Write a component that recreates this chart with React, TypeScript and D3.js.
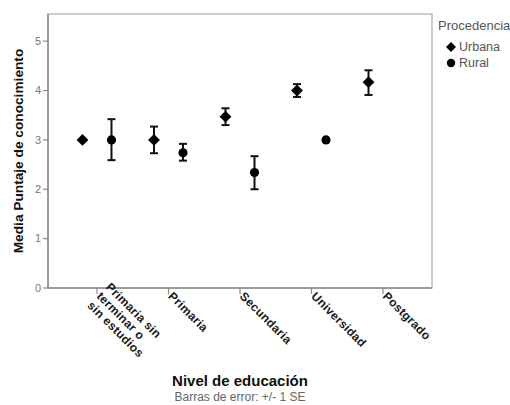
import React from "react";
import * as d3 from "d3";

const categories = ["Primaria sin terminar o sin estudios", "Primaria", "Secundaria", "Universidad", "Postgrado"];
const categoryLines = [["Primaria sin", "terminar o", "sin estudios"], ["Primaria"], ["Secundaria"], ["Universidad"], ["Postgrado"]];
const seriesNames = ["Urbana", "Rural"];

const urbanaMean = [3.0, 3.0, 3.47, 4.0, 4.17];
const urbanaLow = [3.0, 2.73, 3.3, 3.87, 3.91];
const urbanaHigh = [3.0, 3.27, 3.64, 4.13, 4.41];

const ruralMean = [3.0, 2.74, 2.34, 3.0, null];
const ruralLow = [2.59, 2.58, 2.0, 3.0, null];
const ruralHigh = [3.42, 2.92, 2.67, 3.0, null];

const yTicks = [0, 1, 2, 3, 4, 5];

const margin = { top: 14, left: 48, right: 78, bottom: 117 };
const W = 510;
const H = 405;
const font = "Arial, 'Liberation Sans', Helvetica, sans-serif";

export default function App() {
  const x = d3.scalePoint<string>()
    .domain(categories)
    .range([margin.left, W - margin.right])
    .padding(0.685);

  const offset = d3.scalePoint<string>()
    .domain(seriesNames)
    .range([-14.5, 14.5]);

  const y = d3.scaleLinear()
    .domain([0, 5.55])
    .range([H - margin.bottom, margin.top]);

  const series = [
    { name: "Urbana", mean: urbanaMean, low: urbanaLow, high: urbanaHigh },
    { name: "Rural", mean: ruralMean, low: ruralLow, high: ruralHigh },
  ];

  const diamond = d3.symbol(d3.symbolSquare, 70)();
  const circle = d3.symbol(d3.symbolCircle, 66)();

  const bottom = y(0);
  const cx = 240;

  return (
    <svg width={W} height={H} style={{ position: "absolute", left: 0, top: 0 }} fontFamily={font}>
      <rect x={0} y={0} width={W} height={H} fill="#fff" />
      {/* plot frame */}
      <rect x={margin.left} y={margin.top} width={W - margin.left - margin.right} height={bottom - margin.top}
        fill="none" stroke="#bdbdbd" strokeWidth={1.5} />
      <line x1={margin.left} x2={margin.left} y1={margin.top} y2={bottom} stroke="#8a8a8a" strokeWidth={1.5} />
      <line x1={margin.left} x2={W - margin.right} y1={bottom} y2={bottom} stroke="#8a8a8a" strokeWidth={1.5} />

      {/* y axis */}
      {yTicks.map(t => (
        <g key={t}>
          <line x1={margin.left - 5} x2={margin.left} y1={y(t)} y2={y(t)} stroke="#8a8a8a" strokeWidth={1.2} />
          <text x={margin.left - 7} y={y(t)} dy="0.35em" textAnchor="end" fontSize={11} fill="#777">{t}</text>
        </g>
      ))}
      <text transform={`translate(23, ${(margin.top + bottom) / 2}) rotate(-90)`} textAnchor="middle"
        fontSize={13.7} fontWeight="bold" fill="#111">Media Puntaje de conocimiento</text>

      {/* x axis */}
      {categories.map((c, i) => {
        const lines = categoryLines[i];
        const lh = 13;
        return (
          <g key={c}>
            <line x1={x(c)} x2={x(c)} y1={bottom} y2={bottom + 6} stroke="#8a8a8a" strokeWidth={1.2} />
            <text transform={`translate(${x(c)! + 2}, ${bottom + 6}) rotate(45)`} fontSize={12} fontWeight="bold"
              letterSpacing={0.3} fill="#1a1a1a" textAnchor="start">
              {lines.map((l, j) => (
                <tspan key={j} x={0} y={(j - (lines.length - 1) / 2) * lh} dy="0.35em">{l}</tspan>
              ))}
            </text>
          </g>
        );
      })}
      <text x={cx} y={386} textAnchor="middle" fontSize={15} fontWeight="bold" fill="#111">Nivel de educación</text>
      <text x={cx} y={401} textAnchor="middle" fontSize={12} fill="#666">Barras de error: +/- 1 SE</text>

      {/* error bars and markers */}
      {series.map(s => (
        <g key={s.name}>
          {categories.map((c, i) => {
            const m = s.mean[i];
            if (m == null) return null;
            const px = x(c)! + offset(s.name)!;
            const lo = s.low[i]!;
            const hi = s.high[i]!;
            return (
              <g key={c}>
                {hi > lo && (
                  <g stroke="#111" strokeWidth={2}>
                    <line x1={px} x2={px} y1={y(lo)} y2={y(hi)} />
                    <line x1={px - 4} x2={px + 4} y1={y(lo)} y2={y(lo)} />
                    <line x1={px - 4} x2={px + 4} y1={y(hi)} y2={y(hi)} />
                  </g>
                )}
                <path d={s.name === "Urbana" ? diamond! : circle!}
                  transform={`translate(${px}, ${y(m)})${s.name === "Urbana" ? " rotate(45)" : ""}`}
                  fill="#000" />
              </g>
            );
          })}
        </g>
      ))}

      {/* legend */}
      <text x={438} y={30} fontSize={13} fill="#555">Procedencia</text>
      {seriesNames.map((n, i) => (
        <g key={n} transform={`translate(451, ${47 + i * 16})`}>
          <path d={n === "Urbana" ? d3.symbol(d3.symbolSquare, 50)()! : d3.symbol(d3.symbolCircle, 55)()!}
            transform={n === "Urbana" ? "rotate(45)" : ""} fill="#000" />
          <text x={8} y={0} dy="0.35em" fontSize={12.5} fill="#555">{n}</text>
        </g>
      ))}
    </svg>
  );
}
